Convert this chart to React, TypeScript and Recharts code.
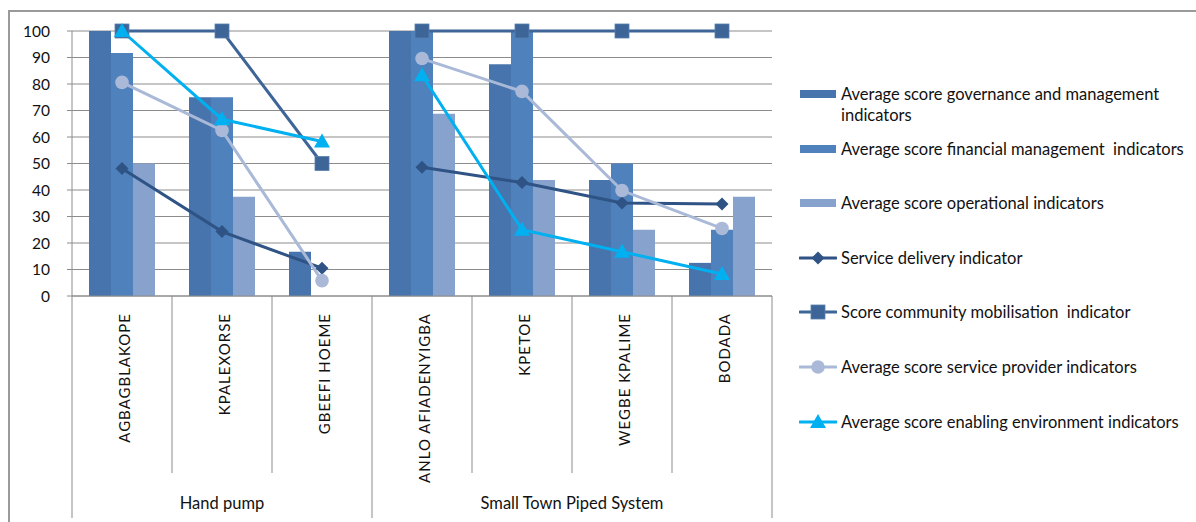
import React from "react";
import { Bar, CartesianGrid, ComposedChart, Line, XAxis, YAxis } from "recharts";

const places = [
  "AGBAGBLAKOPE",
  "KPALEXORSE",
  "GBEEFI HOEME",
  "ANLO AFIADENYIGBA",
  "KPETOE",
  "WEGBE KPALIME",
  "BODADA",
];
const systemGroups = ["Hand pump", "Small Town Piped System"];
const placeGroup = [0, 0, 0, 1, 1, 1, 1];
const yTicks = [0, 10, 20, 30, 40, 50, 60, 70, 80, 90, 100];

const governance = [100, 75, 16.7, 100, 87.5, 43.8, 12.5];
const financial = [91.7, 75, null, 100, 100, 50, 25];
const operational = [50, 37.5, null, 68.8, 43.8, 25, 37.5];
const serviceDelivery = [48.1, 24.3, 10.5, 48.6, 42.8, 35.1, 34.7];
const community = [100, 100, 50, 100, 100, 100, 100];
const serviceProvider = [80.6, 62.5, 5.8, 89.6, 77.2, 39.8, 25.5];
const enabling = [100, 66.7, 58.3, 83.3, 25, 16.7, 8.3];

const FONT = "Lato, 'Noto Sans', sans-serif";
const CHART_W = 780;
const CHART_H = 522;
const MARGIN = { top: 31, right: 8, bottom: 0, left: 12 };
const Y_W = 60;
const X_H = 226;
const PLOT_W = CHART_W - MARGIN.left - MARGIN.right - Y_W;
const BAND = PLOT_W / places.length;
const GRID = "#8c8c8c";

const barSeries = [
  { key: "gov", name: "Average score governance and management indicators", values: governance, color: "#4774ac" },
  { key: "fin", name: "Average score financial management  indicators", values: financial, color: "#4f81bd" },
  { key: "ops", name: "Average score operational indicators", values: operational, color: "#87a2cc" },
];

const lineSeries = [
  { key: "sd", name: "Service delivery indicator", values: serviceDelivery, color: "#2e5384", marker: "diamond" },
  { key: "cm", name: "Score community mobilisation  indicator", values: community, color: "#3d6598", marker: "square" },
  { key: "sp", name: "Average score service provider indicators", values: serviceProvider, color: "#a9b9d7", marker: "circle" },
  { key: "ee", name: "Average score enabling environment indicators", values: enabling, color: "#00b0f0", marker: "triangle" },
];

// one row per place; line values are split per system so the lines break between groups
const data = places.map((place, i) => {
  const row: Record<string, any> = { place, group: placeGroup[i] };
  barSeries.forEach((s) => (row[s.key] = s.values[i]));
  lineSeries.forEach((s) => {
    systemGroups.forEach((_, g) => {
      row[`${s.key}_${g}`] = placeGroup[i] === g ? s.values[i] : null;
    });
  });
  return row;
});

function Marker({ type, cx, cy, color }: { type: string; cx: number; cy: number; color: string }) {
  if (type === "diamond") {
    return <path d={`M${cx},${cy - 6.5}L${cx + 6.5},${cy}L${cx},${cy + 6.5}L${cx - 6.5},${cy}Z`} fill={color} />;
  }
  if (type === "square") {
    return <rect x={cx - 7} y={cy - 7} width={14} height={14} fill={color} stroke="#5a80b0" strokeWidth={0.8} />;
  }
  if (type === "circle") {
    return <circle cx={cx} cy={cy} r={6.8} fill={color} />;
  }
  return <path d={`M${cx},${cy - 8}L${cx + 8},${cy + 6}L${cx - 8},${cy + 6}Z`} fill={color} />;
}

const makeDot = (type: string, color: string) => (props: any) => {
  const { cx, cy, index, value } = props;
  if (value == null || cy == null || isNaN(cy)) return <g key={index} />;
  return (
    <g key={index}>
      <Marker type={type} cx={cx} cy={cy} color={color} />
    </g>
  );
};

function PlaceTick(props: any) {
  const { x, y, payload, index } = props;
  const left = x - BAND / 2;
  const g = placeGroup[index];
  const firstOfGroup = index === 0 || placeGroup[index - 1] !== g;
  const last = index === places.length - 1;
  const groupCount = placeGroup.filter((p) => p === g).length;
  return (
    <g>
      <line x1={left} y1={y} x2={left} y2={firstOfGroup ? y + 222 : y + 177} stroke={GRID} strokeWidth={1} />
      {last && <line x1={x + BAND / 2} y1={y} x2={x + BAND / 2} y2={y + 222} stroke={GRID} strokeWidth={1} />}
      <text
        x={x + 2}
        y={y + 17}
        transform={`rotate(-90, ${x + 2}, ${y + 17})`}
        textAnchor="end"
        dominantBaseline="central"
        fontFamily={FONT}
        fontSize={15}
        letterSpacing={1}
        fill="#111"
      >
        {payload.value}
      </text>
      {firstOfGroup && (
        <text
          x={left + (groupCount * BAND) / 2}
          y={y + 207}
          textAnchor="middle"
          dominantBaseline="central"
          fontFamily={FONT}
          fontSize={16.5}
          fill="#111"
        >
          {systemGroups[g]}
        </text>
      )}
    </g>
  );
}

function LegendSwatch({ kind, color, marker }: { kind: string; color: string; marker?: string }) {
  return (
    <svg width={38} height={16} style={{ display: "block" }}>
      {kind === "bar" ? (
        <rect x={1} y={4} width={36} height={8} fill={color} />
      ) : (
        <>
          <line x1={1} y1={8} x2={37} y2={8} stroke={color} strokeWidth={3} strokeLinecap="round" />
          <Marker type={marker || "circle"} cx={19} cy={8} color={color} />
        </>
      )}
    </svg>
  );
}

export default function App() {
  const legendItems = [
    ...barSeries.map((s) => ({ ...s, kind: "bar", marker: undefined as string | undefined })),
    ...lineSeries.map((s) => ({ ...s, kind: "line" })),
  ];
  return (
    <div style={{ position: "absolute", left: 0, top: 0, width: 1196, height: 522, background: "#fff", overflow: "hidden" }}>
      <div
        style={{
          position: "absolute",
          left: 8,
          top: 10,
          width: 1200,
          height: 520,
          borderTop: `2px solid #9a9a9a`,
          borderLeft: `2px solid #9a9a9a`,
        }}
      />
      <div style={{ position: "absolute", left: 0, top: 0 }}>
        <ComposedChart width={CHART_W} height={CHART_H} data={data} margin={MARGIN} barGap={0} barCategoryGap="17%">
          <CartesianGrid vertical={false} stroke={GRID} strokeWidth={1} />
          <XAxis
            dataKey="place"
            interval={0}
            height={X_H}
            tickLine={false}
            tickSize={0}
            tickMargin={0}
            axisLine={{ stroke: GRID }}
            tick={<PlaceTick />}
          />
          <YAxis
            domain={[0, 100]}
            ticks={yTicks}
            width={Y_W}
            tickSize={5}
            tickMargin={17}
            axisLine={{ stroke: GRID }}
            tickLine={{ stroke: GRID }}
            tick={{ fontFamily: FONT, fontSize: 15.5, fill: "#111" }}
          />
          {barSeries.map((s) => (
            <Bar key={s.key} dataKey={s.key} name={s.name} fill={s.color} barSize={22} isAnimationActive={false} />
          ))}
          {lineSeries.map((s) =>
            systemGroups.map((_, g) => (
              <Line
                key={`${s.key}_${g}`}
                dataKey={`${s.key}_${g}`}
                name={s.name}
                stroke={s.color}
                strokeWidth={3}
                dot={makeDot(s.marker, s.color)}
                activeDot={false}
                connectNulls={false}
                isAnimationActive={false}
              />
            ))
          )}
        </ComposedChart>
      </div>
      {legendItems.map((s, i) => (
        <div
          key={s.key}
          style={{
            position: "absolute",
            left: 799,
            top: 94 + i * 54.6 - 10,
            display: "flex",
            alignItems: "flex-start",
            fontFamily: FONT,
            fontSize: 16.5,
            lineHeight: "21px",
            color: "#111",
          }}
        >
          <div style={{ marginTop: 2 }}>
            <LegendSwatch kind={s.kind} color={s.color} marker={s.marker} />
          </div>
          <div style={{ marginLeft: 4, width: 355, whiteSpace: "pre-wrap" }}>{s.name}</div>
        </div>
      ))}
    </div>
  );
}
